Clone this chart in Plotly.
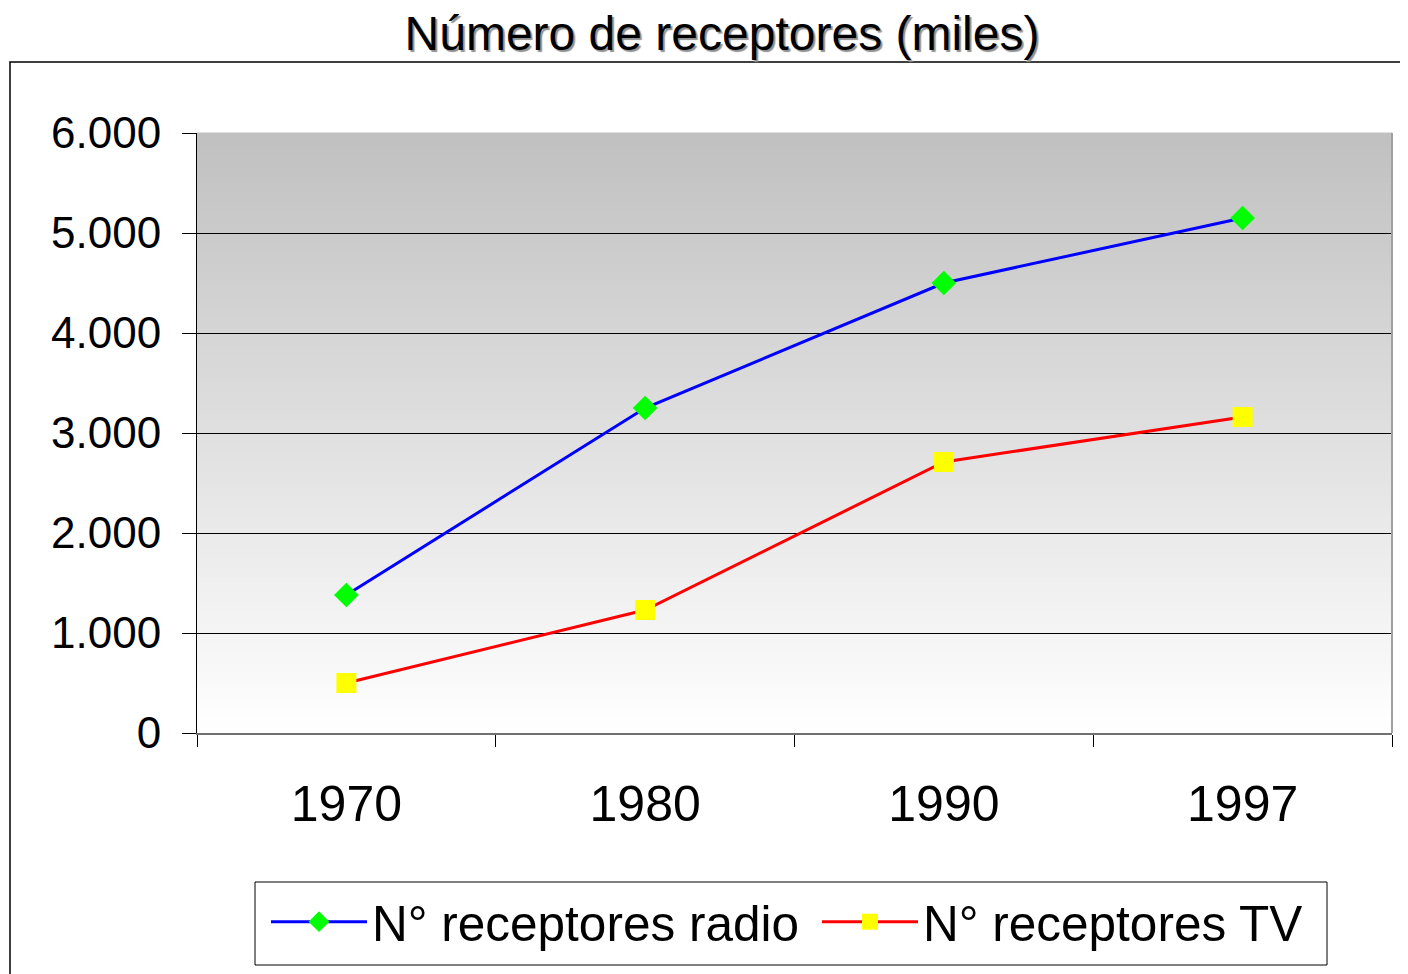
import plotly.graph_objects as go

years = ["1970", "1980", "1990", "1997"]
radio = [1380, 3250, 4500, 5150]
tv = [500, 1230, 2710, 3160]
y_ticks = [0, 1000, 2000, 3000, 4000, 5000, 6000]

FONT = "Liberation Sans, Arial, sans-serif"
OFF = 8  # page body margin

fig = go.Figure()
fig.add_trace(go.Scatter(
    x=years, y=radio, mode="lines+markers", name="N° receptores radio",
    line=dict(color="#0000ff", width=3),
    marker=dict(symbol="diamond", size=19, color="#00ff00", line=dict(width=0)),
))
fig.add_trace(go.Scatter(
    x=years, y=tv, mode="lines+markers", name="N° receptores TV",
    line=dict(color="#ff0000", width=3),
    marker=dict(symbol="square", size=20, color="#ffff00", line=dict(width=0)),
))

# vertical gradient background (grey top -> white bottom)
n = 120
shapes = []
for i in range(n):
    t = (i + 0.5) / n
    v = int(round(192 + (255 - 192) * t))
    shapes.append(dict(
        type="rect", xref="x domain", yref="y domain",
        x0=0, x1=1, y0=1 - (i + 1) / n, y1=1 - i / n + 0.001,
        fillcolor=f"rgb({v},{v},{v})", line=dict(width=0), layer="below",
    ))
shapes.append(dict(type="line", xref="x domain", yref="y domain", x0=1, x1=1, y0=0, y1=1,
                   line=dict(color="#a0a0a0", width=2), layer="above"))

# target page pixel geometry
PL, PR, PT, PB = 197, 1392, 133, 733
W, H = 1408, 974
L, T = PL - OFF, PT - OFF
R = W - (PR - OFF)
B = H - (PB - OFF)
pw, ph = PR - PL, PB - PT

def px(xpage):
    return (xpage - PL) / pw

def py(ypage):
    return (PB - ypage) / ph

# outer chart frame
shapes.append(dict(type="rect", xref="paper", yref="paper",
                   x0=px(10), x1=px(1430), y0=py(1000), y1=py(62),
                   line=dict(color="black", width=1.5), fillcolor="rgba(0,0,0,0)"))
# legend box
shapes.append(dict(type="rect", xref="paper", yref="paper",
                   x0=px(255), x1=px(1327), y0=py(965), y1=py(882),
                   line=dict(color="black", width=1), fillcolor="white"))

fig.update_layout(
    width=W, height=H,
    margin=dict(l=L, r=R, t=T, b=B),
    paper_bgcolor="white", plot_bgcolor="white",
    separators=",.",
    font=dict(family=FONT, color="black"),
    title=dict(text="Número de receptores (miles)", x=(722 - OFF) / W, xref="container", xanchor="center",
               y=1 - (33 - OFF) / H, yref="container", yanchor="middle",
               font=dict(size=48, family=FONT, color="black", shadow="2px 2px 1px #909090")),
    shapes=shapes,
    showlegend=True,
    legend=dict(orientation="h", x=px(266), xanchor="left", y=py(883), yanchor="top",
                borderwidth=0, bgcolor="rgba(0,0,0,0)",
                font=dict(size=49.5, family=FONT, color="black"), itemwidth=96,
                entrywidth=440),
)
fig.update_xaxes(
    type="category", range=[-0.5, 3.5], tickson="boundaries",
    ticks="outside", ticklen=12, tickcolor="black", tickwidth=1,
    showline=True, linecolor="#707070", linewidth=2, showgrid=False,
    tickfont=dict(size=50, family=FONT), ticklabelstandoff=26,
)
fig.update_yaxes(
    range=[0, 6000], tickvals=y_ticks, tickformat=",d",
    ticks="outside", ticklen=14, tickcolor="black", tickwidth=1,
    showline=True, linecolor="black", linewidth=1,
    showgrid=True, gridcolor="black", gridwidth=1, zeroline=False,
    tickfont=dict(size=44, family=FONT), ticklabelstandoff=12,
)

fig.write_html("out.html")
